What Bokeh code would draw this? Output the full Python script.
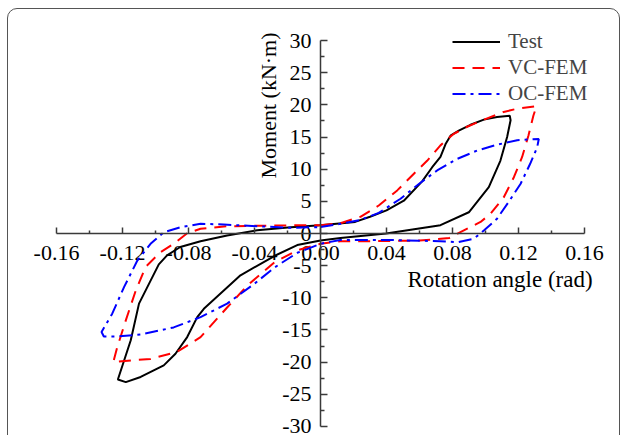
import numpy as np
from bokeh.plotting import figure
from bokeh.models import (LinearAxis, FixedTicker, Legend, LegendItem, Label,
                          Range1d, InlineStyleSheet)
from bokeh.core.properties import value
from bokeh.embed import file_html
from bokeh.resources import INLINE

# ---------------- data ----------------
x_ticks = [-0.16, -0.12, -0.08, -0.04, 0.0, 0.04, 0.08, 0.12, 0.16]
x_minor = [-0.14, -0.10, -0.06, -0.02, 0.02, 0.06, 0.10, 0.14]
y_ticks = [-30, -25, -20, -15, -10, -5, 0, 5, 10, 15, 20, 25, 30]
y_minor = [-27.5, -22.5, -17.5, -12.5, -7.5, -2.5, 2.5, 7.5, 12.5, 17.5, 22.5, 27.5]
x_tick_labels = ["-0.16", "-0.12", "-0.08", "-0.04", "0.00", "0.04", "0.08", "0.12", "0.16"]
y_tick_labels = ["-30", "-25", "-20", "-15", "-10", "-5", "0", "5", "10", "15", "20", "25", "30"]

test_x = [0.0, 0.021, 0.030, 0.040, 0.0505, 0.0616, 0.0677, 0.0727, 0.0758, 0.0788,
          0.0838, 0.0909, 0.099, 0.107, 0.1147, 0.1152, 0.1131, 0.109, 0.102, 0.0899,
          0.0727, 0.0398, 0.0121, 0.0, -0.0141, -0.028, -0.0485, -0.0707, -0.0747,
          -0.0808, -0.0879, -0.095, -0.109, -0.118, -0.1228, -0.115, -0.110, -0.098,
          -0.093, -0.085, -0.0727, -0.0566, -0.0384, -0.018, 0.0]
test_y = [1.3, 1.8, 2.6, 3.6, 5.1, 8.1, 10.3, 11.9, 13.9, 15.2,
          16.0, 16.9, 17.7, 18.1, 18.3, 17.6, 15.0, 11.3, 7.2, 3.3,
          1.3, 0.0, -0.7, -1.1, -1.8, -3.5, -6.5, -11.7, -13.0,
          -16.1, -18.7, -20.5, -22.3, -23.1, -22.7, -16.6, -10.9, -4.8,
          -3.4, -2.1, -1.2, -0.3, 0.5, 0.98, 1.3]

vc_x = [0.0, 0.012, 0.0242, 0.0353, 0.0465, 0.0566, 0.0646, 0.0727, 0.0808, 0.0889,
        0.099, 0.111, 0.1192, 0.1309, 0.129, 0.126, 0.1222, 0.1172, 0.111, 0.103,
        0.097, 0.0848, 0.078, 0.060, 0.030, 0.012, 0.0, -0.014, -0.028, -0.044,
        -0.0566, -0.0727, -0.0869, -0.103, -0.114, -0.1256, -0.1232, -0.118, -0.112,
        -0.106, -0.097, -0.089, -0.081, -0.0727, -0.0566, -0.028, 0.0]
vc_y = [1.3, 1.6, 2.6, 4.35, 6.7, 9.3, 11.3, 13.7, 15.5, 16.6,
        17.7, 18.9, 19.4, 19.8, 18.3, 15.2, 11.9, 8.75, 5.6, 3.06,
        1.8, 0.2, -0.7, -1.1, -1.2, -1.2, -1.6, -2.6, -4.5, -8.0,
        -11.5, -16.1, -18.4, -19.5, -19.7, -20.0, -17.7, -13.5, -8.9,
        -5.2, -2.9, -1.6, 0.0, 0.73, 1.13, 1.24, 1.3]

oc_x = [0.0, 0.012, 0.024, 0.0353, 0.0485, 0.0606, 0.0707, 0.0828, 0.095, 0.107,
        0.1192, 0.1323, 0.1313, 0.127, 0.1212, 0.114, 0.107, 0.099, 0.093, 0.083,
        0.0727, 0.040, 0.012, 0.0, -0.014, -0.028, -0.040, -0.0566, -0.0727, -0.089,
        -0.109, -0.123, -0.1313, -0.1327, -0.1263, -0.119, -0.111, -0.103, -0.095,
        -0.0848, -0.0727, -0.0586, -0.038, -0.018, 0.0]
oc_y = [1.0, 1.5, 2.1, 3.2, 5.4, 7.9, 9.8, 11.6, 12.9, 13.8,
        14.5, 14.7, 13.4, 10.8, 7.7, 4.9, 2.3, 0.47, -0.8, -1.35,
        -1.2, -1.0, -1.0, -1.6, -3.0, -5.3, -7.8, -10.9, -13.0, -14.6,
        -15.7, -16.0, -16.0, -15.3, -12.5, -8.3, -4.2, -1.6, 0.2,
        0.98, 1.5, 1.4, 1.13, 0.88, 1.0]

series_names = ["Test", "VC-FEM", "OC-FEM"]

FONT = "Liberation Serif"
AXC = "#3a3a3a"

# frame covers the whole canvas; axes sit at x=0 / y=0 inside it
p = figure(width=624, height=435, output_backend="svg", toolbar_location=None,
           x_range=Range1d(-0.19394, 0.18424), y_range=Range1d(-31.40, 36.22),
           x_axis_location=None, y_axis_location=None,
           min_border=0, min_border_left=0, min_border_right=0,
           min_border_top=0, min_border_bottom=0)
p.outline_line_color = None
p.grid.grid_line_color = None
p.background_fill_color = "white"
p.border_fill_color = "white"

xa = LinearAxis(fixed_location=0, bounds=(-0.16, 0.16),
                ticker=FixedTicker(ticks=x_ticks, minor_ticks=x_minor))
ya = LinearAxis(fixed_location=0, bounds=(-30, 30),
                ticker=FixedTicker(ticks=y_ticks, minor_ticks=y_minor))
for ax in (xa, ya):
    ax.axis_line_color = AXC
    ax.axis_line_width = 1.5
    ax.major_tick_line_color = AXC
    ax.minor_tick_line_color = AXC
    ax.major_tick_line_width = 1.5
    ax.minor_tick_line_width = 1.5
    ax.major_tick_out = 0
    ax.minor_tick_out = 0
    ax.major_label_standoff = 0
    ax.major_label_text_font_size = "0px"
    ax.major_label_text_alpha = 0
xa.major_tick_in = 6
xa.minor_tick_in = 3
ya.major_tick_in = 7
ya.minor_tick_in = 4
p.add_layout(xa, "below")
p.add_layout(ya, "left")

# tick labels placed at the tick values through the plot's scales
p.text(x=x_ticks, y=[0] * len(x_ticks), text=x_tick_labels, x_offset=0, y_offset=19,
       text_align="center", text_baseline="middle",
       text_font=value(FONT), text_font_size="22px", text_color="black")
p.text(x=[0] * len(y_ticks), y=y_ticks, text=y_tick_labels, x_offset=-9, y_offset=0,
       text_align="right", text_baseline="middle",
       text_font=value(FONT), text_font_size="22px", text_color="black")

r1 = p.line(test_x, test_y, line_color="black", line_width=2)
r2 = p.line(vc_x, vc_y, line_color="red", line_width=2, line_dash="12 8")
r3 = p.line(oc_x, oc_y, line_color="blue", line_width=2, line_dash="13 5 3 5")

legend = Legend(items=[LegendItem(label=series_names[0], renderers=[r1]),
                       LegendItem(label=series_names[1], renderers=[r2]),
                       LegendItem(label=series_names[2], renderers=[r3])],
                location=(452, 329), border_line_color=None,
                background_fill_alpha=0, padding=0, margin=0, spacing=1,
                glyph_width=48, glyph_height=25, label_height=25,
                label_standoff=8, label_text_font=FONT,
                label_text_font_size="21px")
p.add_layout(legend)

p.add_layout(Label(x=-0.0315, y=19.9, text="Moment (kN·m)", angle=np.pi / 2,
                   text_align="center", text_baseline="middle",
                   text_font=FONT, text_font_size="22px", text_color="black"))
p.add_layout(Label(x=0.1088, y=-7.2, text="Rotation angle (rad)",
                   text_align="center", text_baseline="middle",
                   text_font=FONT, text_font_size="23px", text_color="black"))

# rounded panel border around the whole chart
p.stylesheets = [InlineStyleSheet(css="""
:host { overflow: hidden; }
:host::after {
  content: ""; position: absolute; left: 7px; top: 8px;
  width: 613px; height: 460px; box-sizing: border-box;
  border: 1.3px solid #555; border-radius: 10px;
  pointer-events: none; z-index: 10;
}
""")]

open("out.html", "w").write(file_html(p, INLINE))
